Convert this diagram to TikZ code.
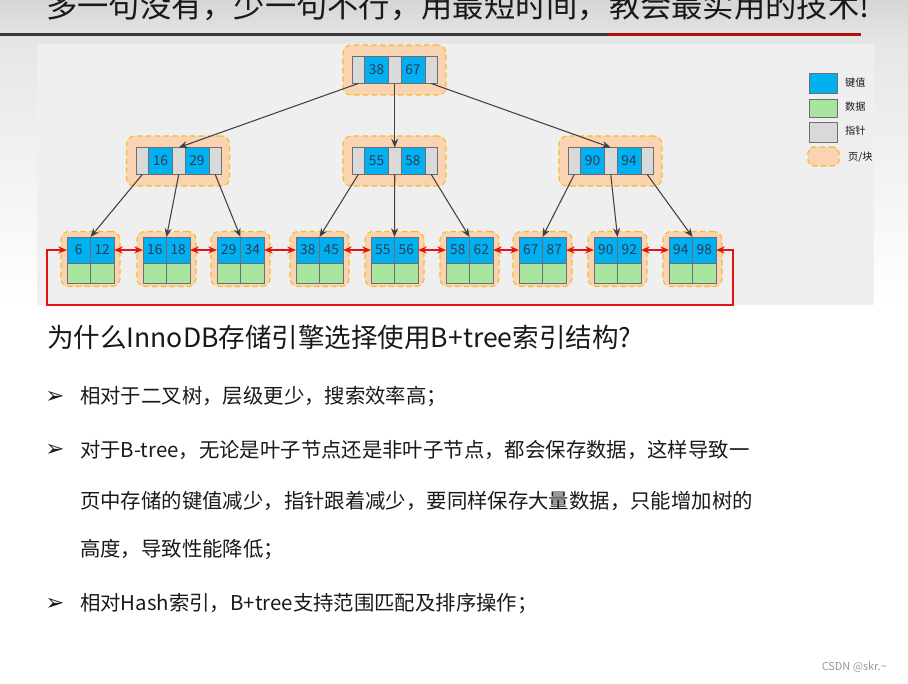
\documentclass[tikz,border=0pt]{standalone}
\usepackage{fontspec}
\setmainfont{Noto Sans CJK SC}
\newfontfamily\symfont{DejaVu Sans}
\usepackage{xcolor}
\definecolor{keyblue}{RGB}{0,176,240}
\definecolor{datgreen}{RGB}{168,230,160}
\definecolor{ptrgray}{RGB}{217,217,217}
\definecolor{celledge}{RGB}{110,110,110}
\definecolor{pagepeach}{RGB}{249,211,178}
\definecolor{pageedge}{RGB}{244,188,40}
\definecolor{linkgray}{RGB}{64,64,64}
\definecolor{sibred}{RGB}{228,18,18}
\definecolor{numtext}{RGB}{45,60,85}
\definecolor{rulered}{RGB}{176,16,16}
\definecolor{ruledark}{RGB}{58,58,58}
\definecolor{panelgray}{RGB}{239,239,239}
\definecolor{bandgray}{RGB}{214,214,214}
\definecolor{txtblack}{RGB}{25,25,25}
\usepackage{tikz}
\usetikzlibrary{arrows.meta, positioning}

\begin{document}
\begin{tikzpicture}[x=0.02cm, y=-0.02cm,
  pagebox/.style={rectangle, rounded corners=4.5pt, draw=pageedge, densely dashed,
                  semithick, fill=pagepeach, inner sep=0pt},
  ptrcell/.style={rectangle, draw=celledge, fill=ptrgray, thin, inner sep=0pt, outer sep=0pt,
                  minimum width=0.25cm, minimum height=0.54cm},
  keycell/.style={rectangle, draw=celledge, fill=keyblue, thin, inner sep=0pt, outer sep=0pt,
                  minimum width=0.48cm, minimum height=0.54cm,
                  font=\fontsize{7.8}{8}\selectfont, text=numtext},
  leafkey/.style={keycell, minimum width=0.47cm, minimum height=0.52cm},
  datacell/.style={rectangle, draw=celledge, fill=datgreen, thin, inner sep=0pt, outer sep=0pt,
                   minimum width=0.47cm, minimum height=0.40cm},
  downlink/.style={-{Stealth[length=5pt, width=4pt]}, draw=linkgray, semithick},
  siblink/.style={{Stealth[length=5pt, width=4pt]}-{Stealth[length=5pt, width=4pt]},
                  draw=sibred, thick},
  legtext/.style={anchor=west, font=\fontsize{5.8}{6}\selectfont, text=txtblack},
  bullet/.style={font=\symfont\fontsize{13}{13}\selectfont, text=txtblack},
  bodytext/.style={anchor=west, font=\fontsize{11.6}{12}\selectfont, text=txtblack}
]
\useasboundingbox (0,0) rectangle (908,683);

% backgrounds
\fill[white] (0,0) rectangle (908,683);
\fill[top color=bandgray, bottom color=bandgray!60] (0,0) rectangle (908,44);
\fill[top color=bandgray!60, bottom color=white] (0,44) rectangle (908,305);
\fill[panelgray] (37,44) rectangle (874,305);
\fill[ruledark] (0,33) rectangle (608,36);
\fill[rulered] (608,33) rectangle (861,36);
\node[anchor=base west, font=\fontsize{17.8}{18}\selectfont, text=txtblack] (title) at (40,17)
  {多一句没有，少一句不行，用最短时间，教会最实用的技术!};

% root
\node[pagebox, minimum width=2.06cm, minimum height=1.0cm] (rootpg) at (394.5,70) {};
\node[ptrcell] (r0) at (358.25,70) {};
\node[keycell, right=0pt of r0] (r1) {38};
\node[ptrcell, right=0pt of r1] (r2) {};
\node[keycell, right=0pt of r2] (r3) {67};
\node[ptrcell, right=0pt of r3] (r4) {};

% inner level
\node[pagebox, minimum width=2.06cm, minimum height=1.0cm] (apg) at (178,161) {};
\node[ptrcell] (a0) at (142.25,161) {};
\node[keycell, right=0pt of a0] (a1) {16};
\node[ptrcell, right=0pt of a1] (a2) {};
\node[keycell, right=0pt of a2] (a3) {29};
\node[ptrcell, right=0pt of a3] (a4) {};

\node[pagebox, minimum width=2.06cm, minimum height=1.0cm] (bpg) at (394.5,161) {};
\node[ptrcell] (b0) at (358.25,161) {};
\node[keycell, right=0pt of b0] (b1) {55};
\node[ptrcell, right=0pt of b1] (b2) {};
\node[keycell, right=0pt of b2] (b3) {58};
\node[ptrcell, right=0pt of b3] (b4) {};

\node[pagebox, minimum width=2.06cm, minimum height=1.0cm] (cpg) at (610.5,161) {};
\node[ptrcell] (c0) at (574.25,161) {};
\node[keycell, right=0pt of c0] (c1) {90};
\node[ptrcell, right=0pt of c1] (c2) {};
\node[keycell, right=0pt of c2] (c3) {94};
\node[ptrcell, right=0pt of c3] (c4) {};

% leaves
\node[pagebox, minimum width=1.18cm, minimum height=1.1cm] (pg1) at (90.5,259) {};
\node[leafkey] (l1a) at (78.75,250) {6};
\node[leafkey, right=0pt of l1a] (l1b) {12};
\node[datacell, below=0pt of l1a] (d1a) {};
\node[datacell, below=0pt of l1b] (d1b) {};

\node[pagebox, minimum width=1.18cm, minimum height=1.1cm] (pg2) at (166.5,259) {};
\node[leafkey] (l2a) at (154.75,250) {16};
\node[leafkey, right=0pt of l2a] (l2b) {18};
\node[datacell, below=0pt of l2a] (d2a) {};
\node[datacell, below=0pt of l2b] (d2b) {};

\node[pagebox, minimum width=1.18cm, minimum height=1.1cm] (pg3) at (240.5,259) {};
\node[leafkey] (l3a) at (228.75,250) {29};
\node[leafkey, right=0pt of l3a] (l3b) {34};
\node[datacell, below=0pt of l3a] (d3a) {};
\node[datacell, below=0pt of l3b] (d3b) {};

\node[pagebox, minimum width=1.18cm, minimum height=1.1cm] (pg4) at (319.5,259) {};
\node[leafkey] (l4a) at (307.75,250) {38};
\node[leafkey, right=0pt of l4a] (l4b) {45};
\node[datacell, below=0pt of l4a] (d4a) {};
\node[datacell, below=0pt of l4b] (d4b) {};

\node[pagebox, minimum width=1.18cm, minimum height=1.1cm] (pg5) at (394.5,259) {};
\node[leafkey] (l5a) at (382.75,250) {55};
\node[leafkey, right=0pt of l5a] (l5b) {56};
\node[datacell, below=0pt of l5a] (d5a) {};
\node[datacell, below=0pt of l5b] (d5b) {};

\node[pagebox, minimum width=1.18cm, minimum height=1.1cm] (pg6) at (469.5,259) {};
\node[leafkey] (l6a) at (457.75,250) {58};
\node[leafkey, right=0pt of l6a] (l6b) {62};
\node[datacell, below=0pt of l6a] (d6a) {};
\node[datacell, below=0pt of l6b] (d6b) {};

\node[pagebox, minimum width=1.18cm, minimum height=1.1cm] (pg7) at (542.5,259) {};
\node[leafkey] (l7a) at (530.75,250) {67};
\node[leafkey, right=0pt of l7a] (l7b) {87};
\node[datacell, below=0pt of l7a] (d7a) {};
\node[datacell, below=0pt of l7b] (d7b) {};

\node[pagebox, minimum width=1.18cm, minimum height=1.1cm] (pg8) at (617.5,259) {};
\node[leafkey] (l8a) at (605.75,250) {90};
\node[leafkey, right=0pt of l8a] (l8b) {92};
\node[datacell, below=0pt of l8a] (d8a) {};
\node[datacell, below=0pt of l8b] (d8b) {};

\node[pagebox, minimum width=1.18cm, minimum height=1.1cm] (pg9) at (692.5,259) {};
\node[leafkey] (l9a) at (680.75,250) {94};
\node[leafkey, right=0pt of l9a] (l9b) {98};
\node[datacell, below=0pt of l9a] (d9a) {};
\node[datacell, below=0pt of l9b] (d9b) {};

% pointers down
\draw[downlink] (r0.south) -- (a2.north);
\draw[downlink] (r2.south) -- (b2.north);
\draw[downlink] (r4.south) -- (c2.north);
\draw[downlink] (a0.south) -- (l1a.north east);
\draw[downlink] (a2.south) -- (l2a.north east);
\draw[downlink] (a4.south) -- (l3a.north east);
\draw[downlink] (b0.south) -- (l4a.north east);
\draw[downlink] (b2.south) -- (l5a.north east);
\draw[downlink] (b4.south) -- (l6a.north east);
\draw[downlink] (c0.south) -- (l7a.north east);
\draw[downlink] (c2.south) -- (l8a.north east);
\draw[downlink] (c4.south) -- (l9a.north east);

% leaf links
\draw[siblink] (l1b.east) -- (l2a.west);
\draw[siblink] (l2b.east) -- (l3a.west);
\draw[siblink] (l3b.east) -- (l4a.west);
\draw[siblink] (l4b.east) -- (l5a.west);
\draw[siblink] (l5b.east) -- (l6a.west);
\draw[siblink] (l6b.east) -- (l7a.west);
\draw[siblink] (l7b.east) -- (l8a.west);
\draw[siblink] (l8b.east) -- (l9a.west);
\coordinate (loopR) at (733,305);
\coordinate (loopL) at (47,305);
\draw[siblink] (l9b.east) -| (loopR) -- (loopL) |- (l1a.west);

% legend
\node[rectangle, draw=celledge, fill=keyblue, minimum width=0.56cm, minimum height=0.40cm, inner sep=0pt] (legkey) at (823,83) {};
\node[rectangle, draw=celledge, fill=datgreen, minimum width=0.56cm, minimum height=0.36cm, inner sep=0pt] (legdat) at (823,108) {};
\node[rectangle, draw=celledge, fill=ptrgray, minimum width=0.56cm, minimum height=0.40cm, inner sep=0pt] (legptr) at (823,132) {};
\node[pagebox, rounded corners=3pt, minimum width=0.62cm, minimum height=0.38cm] (legpg) at (823.5,156.5) {};
\node[legtext] (legkeyt) at (839,83) {键值};
\node[legtext] (legdatt) at (839,107) {数据};
\node[legtext] (legptrt) at (839,131) {指针};
\node[legtext] (legpgt) at (842,157) {页/块};

% text
\node[anchor=west, font=\fontsize{15.1}{16}\selectfont, text=txtblack] (quest) at (41,337)
  {为什么InnoDB存储引擎选择使用B+tree索引结构?};
\node[bullet] (bul1) at (55,397) {➢};
\node[bodytext] (txt1) at (74,397) {相对于二叉树，层级更少，搜索效率高；};
\node[bullet] (bul2) at (55,450) {➢};
\node[bodytext] (txt2a) at (74,450) {对于B-tree，无论是叶子节点还是非叶子节点，都会保存数据，这样导致一};
\node[bodytext] (txt2b) at (74,501) {页中存储的键值减少，指针跟着减少，要同样保存大量数据，只能增加树的};
\node[bodytext] (txt2c) at (74,550) {高度，导致性能降低；};
\node[bullet] (bul3) at (55,604) {➢};
\node[bodytext] (txt3) at (74,604) {相对Hash索引，B+tree支持范围匹配及排序操作；};
\node[anchor=east, font=\fontsize{6.2}{7}\selectfont, text=gray!80] (mark) at (893,667) {CSDN @skr.\textasciitilde};
\end{tikzpicture}
\end{document}
